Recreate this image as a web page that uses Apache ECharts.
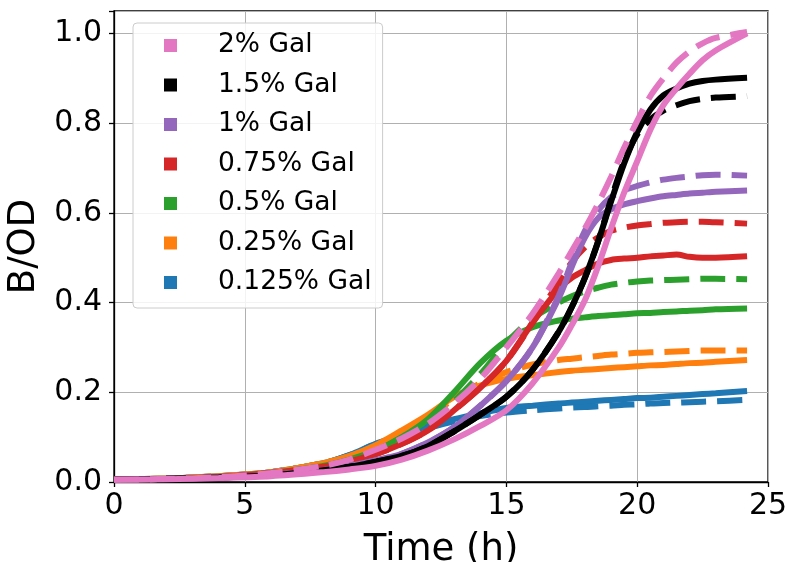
<!DOCTYPE html>
<html>
<head>
<meta charset="utf-8">
<script src="https://cdn.jsdelivr.net/npm/echarts@6/dist/echarts.min.js"></script>
<style>
  html, body { margin: 0; padding: 0; background: #fff; }
  #chart { width: 789px; height: 562px; }
</style>
</head>
<body>
<div id="chart"></div>
<script>
// time points (h)
const hours = [0, 2, 4, 6, 8, 9, 10, 11, 12, 13, 14, 15, 16, 17, 17.5, 18, 18.5, 19, 19.5, 20, 20.5, 21, 21.5, 22, 22.5, 23, 24.2];

// B/OD, solid and dashed runs per galactose level
const gal0125 = [0.005, 0.008, 0.013, 0.022, 0.042, 0.06, 0.085, 0.105, 0.125, 0.14, 0.153, 0.165, 0.17, 0.175, 0.177, 0.179, 0.181, 0.183, 0.185, 0.187, 0.188, 0.19, 0.192, 0.194, 0.196, 0.198, 0.203];
const gal0125Dash = [0.005, 0.008, 0.013, 0.022, 0.042, 0.06, 0.084, 0.102, 0.12, 0.135, 0.147, 0.155, 0.16, 0.164, 0.166, 0.167, 0.169, 0.17, 0.172, 0.173, 0.175, 0.176, 0.177, 0.178, 0.179, 0.18, 0.183];
const gal025 = [0.005, 0.008, 0.013, 0.022, 0.042, 0.058, 0.082, 0.115, 0.15, 0.19, 0.215, 0.23, 0.238, 0.245, 0.248, 0.25, 0.252, 0.254, 0.256, 0.258, 0.26, 0.261, 0.263, 0.265, 0.266, 0.268, 0.272];
const gal025Dash = [0.005, 0.008, 0.013, 0.022, 0.042, 0.058, 0.08, 0.11, 0.145, 0.185, 0.22, 0.245, 0.262, 0.272, 0.275, 0.278, 0.281, 0.284, 0.286, 0.288, 0.289, 0.29, 0.291, 0.292, 0.293, 0.293, 0.293];
const gal05 = [0.005, 0.007, 0.011, 0.02, 0.036, 0.05, 0.07, 0.1, 0.14, 0.2, 0.265, 0.315, 0.345, 0.36, 0.364, 0.367, 0.37, 0.372, 0.374, 0.376, 0.377, 0.379, 0.38, 0.382, 0.383, 0.385, 0.387];
const gal05Dash = [0.005, 0.007, 0.011, 0.02, 0.036, 0.05, 0.068, 0.095, 0.13, 0.18, 0.24, 0.31, 0.365, 0.4, 0.414, 0.425, 0.433, 0.44, 0.444, 0.447, 0.449, 0.45, 0.451, 0.452, 0.453, 0.453, 0.452];
const gal075 = [0.005, 0.007, 0.011, 0.02, 0.034, 0.046, 0.062, 0.085, 0.115, 0.16, 0.21, 0.27, 0.355, 0.43, 0.455, 0.472, 0.487, 0.495, 0.498, 0.5, 0.503, 0.505, 0.507, 0.502, 0.5, 0.5, 0.503];
const gal075Dash = [0.005, 0.007, 0.011, 0.02, 0.034, 0.046, 0.062, 0.085, 0.115, 0.16, 0.21, 0.27, 0.355, 0.445, 0.49, 0.523, 0.545, 0.56, 0.567, 0.572, 0.575, 0.578, 0.579, 0.58, 0.58, 0.579, 0.576];
const gal1 = [0.005, 0.007, 0.01, 0.016, 0.027, 0.036, 0.048, 0.063, 0.088, 0.122, 0.17, 0.225, 0.3, 0.41, 0.48, 0.545, 0.588, 0.608, 0.619, 0.626, 0.632, 0.637, 0.64, 0.643, 0.645, 0.647, 0.65];
const gal1Dash = [0.005, 0.007, 0.01, 0.016, 0.027, 0.036, 0.048, 0.063, 0.088, 0.122, 0.17, 0.225, 0.3, 0.415, 0.49, 0.56, 0.605, 0.635, 0.65, 0.66, 0.668, 0.674, 0.678, 0.681, 0.684, 0.685, 0.683];
const gal15 = [0.005, 0.007, 0.01, 0.015, 0.026, 0.034, 0.045, 0.058, 0.08, 0.113, 0.15, 0.19, 0.25, 0.335, 0.39, 0.455, 0.535, 0.625, 0.71, 0.78, 0.83, 0.862, 0.877, 0.888, 0.894, 0.897, 0.901];
const gal15Dash = [0.005, 0.007, 0.01, 0.015, 0.026, 0.034, 0.045, 0.058, 0.08, 0.113, 0.15, 0.19, 0.25, 0.335, 0.39, 0.455, 0.535, 0.63, 0.715, 0.775, 0.808, 0.828, 0.84, 0.849, 0.854, 0.857, 0.86];
const gal2 = [0.005, 0.006, 0.009, 0.013, 0.022, 0.028, 0.036, 0.05, 0.07, 0.095, 0.125, 0.16, 0.22, 0.3, 0.35, 0.405, 0.48, 0.565, 0.645, 0.715, 0.785, 0.84, 0.877, 0.91, 0.94, 0.962, 1.0];
const gal2Dash = [0.005, 0.007, 0.011, 0.02, 0.036, 0.05, 0.072, 0.097, 0.13, 0.175, 0.23, 0.3, 0.375, 0.465, 0.515, 0.565, 0.62, 0.68, 0.745, 0.805, 0.86, 0.9, 0.935, 0.96, 0.978, 0.99, 1.003];

const labels = ['0.125% Gal', '0.25% Gal', '0.5% Gal', '0.75% Gal', '1% Gal', '1.5% Gal', '2% Gal'];
const colors = ['#1f77b4', '#ff7f0e', '#2ca02c', '#d62728', '#9467bd', '#000000', '#e377c2'];
const solidRuns = [gal0125, gal025, gal05, gal075, gal1, gal15, gal2];
const dashRuns = [gal0125Dash, gal025Dash, gal05Dash, gal075Dash, gal1Dash, gal15Dash, gal2Dash];

const font = 'DejaVu Sans';

function pairs(vals) {
    return hours.map((h, i) => [h, vals[i]]);
}

const series = [];
labels.forEach((name, i) => {
    series.push({
        name: name,
        type: 'line',
        data: pairs(solidRuns[i]),
        showSymbol: false,
        smooth: 0.3,
        color: colors[i],
        lineStyle: {width: 6, color: colors[i]}
    });
    series.push({
        name: name,
        type: 'line',
        data: pairs(dashRuns[i]),
        showSymbol: false,
        smooth: 0.3,
        color: colors[i],
        lineStyle: {width: 6, color: colors[i], type: [25, 11]}
    });
});

const myChart = echarts.init(document.getElementById('chart'));
myChart.setOption({
    animation: false,
    backgroundColor: '#fff',
    grid: {
        left: 114,
        right: 21,
        top: 11,
        bottom: 80,
        containLabel: false,
        outerBoundsMode: 'none',
        show: true,
        borderColor: '#000',
        borderWidth: 1.3,
        backgroundColor: 'transparent'
    },
    legend: {
        orient: 'vertical',
        left: 133,
        top: 23,
        data: labels.slice().reverse(),
        icon: 'rect',
        itemWidth: 13,
        itemHeight: 13,
        itemGap: 12.5,
        padding: [9, 11, 12, 31],
        backgroundColor: 'rgba(255,255,255,0.85)',
        borderColor: '#cccccc',
        borderWidth: 1,
        borderRadius: 4,
        itemStyle: {borderWidth: 0},
        textStyle: {
            fontFamily: font,
            fontSize: 26.5,
            lineHeight: 26,
            color: '#000',
            padding: [0, 0, 0, 36]
        }
    },
    xAxis: {
        type: 'value',
        min: 0,
        max: 25,
        interval: 5,
        name: 'Time (h)',
        nameLocation: 'middle',
        nameGap: 50,
        nameTextStyle: {fontFamily: font, fontSize: 37, color: '#000'},
        axisLine: {lineStyle: {color: '#000', width: 1.3}},
        axisTick: {show: true, length: 5, lineStyle: {color: '#000', width: 1.3}},
        axisLabel: {fontFamily: font, fontSize: 30, color: '#000', margin: 9},
        splitLine: {show: true, lineStyle: {color: '#b0b0b0', width: 1}}
    },
    yAxis: {
        type: 'value',
        min: 0,
        max: 1.05,
        interval: 0.2,
        name: 'B/OD',
        nameLocation: 'middle',
        nameGap: 65,
        nameTextStyle: {fontFamily: font, fontSize: 37, color: '#000'},
        axisLine: {show: true, lineStyle: {color: '#000', width: 1.3}},
        axisTick: {show: true, length: 5, lineStyle: {color: '#000', width: 1.3}},
        axisLabel: {
            fontFamily: font,
            fontSize: 30,
            color: '#000',
            margin: 12,
            formatter(val) {
                return Math.abs(val * 5 - Math.round(val * 5)) < 1e-6 ? val.toFixed(1) : '';
            }
        },
        splitLine: {show: true, lineStyle: {color: '#b0b0b0', width: 1}}
    },
    series: series
});
</script>
</body>
</html>
